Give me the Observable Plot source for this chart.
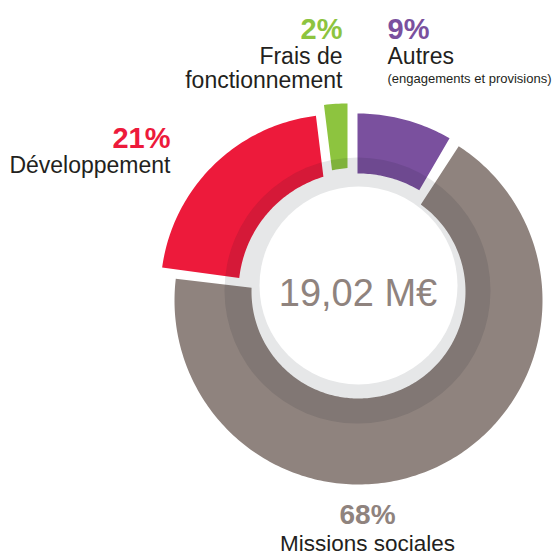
<!DOCTYPE html>
<html><head><meta charset="utf-8">
<script src="https://cdn.jsdelivr.net/npm/d3@7"></script>
<script src="https://cdn.jsdelivr.net/npm/@observablehq/plot@0.6"></script>
<style>html,body{margin:0;padding:0;background:#fff}</style>
</head><body><div id="chart"></div>
<script>
// ---- data ----
const categories = ["Autres", "Missions sociales", "Développement", "Frais de fonctionnement"];
const percents = [9, 68, 21, 2];
const colors = ["#7a509e", "#8f837e", "#ed1a3b", "#8dc43f"];
const titleLines = [["Autres"], ["Missions sociales"], ["Développement"], ["Frais de", "fonctionnement"]];
const subtitles = ["(engagements et provisions)", "", "", ""];
const totalLabel = "19,02 M€";

// ---- layout (pixels, relative to the donut centre) ----
const W = 554, H = 555, CX = 358, CY = 300;
const segLayout = [
  {ax: -1,  ay: -4, R: 183, r: 118, padStart: 0,   padEnd: 2.2},
  {ax: 0,   ay: 0,  R: 184, r: 107, padStart: 0.6, padEnd: 0.4},
  {ax: -21, ay: -9, R: 177, r: 120, padStart: 0.6, padEnd: -0.2},
  {ax: -11, ay: -4, R: 193, r: 124, padStart: 0.2, padEnd: 0}
];
const innerCentre = {x: 0, y: -9};
const shade = {x: -1, y: -10, r: 133};
const hole = {x: 0, y: -15, r: 99};
const labelLayout = [
  {x: 387, y: 38, anchor: "start", lineY: [63], subY: 82, pctSize: 29, titleSize: 23},
  {x: 367, y: 523, anchor: "middle", lineY: [550], pctSize: 28, titleSize: 22.5},
  {x: 170, y: 147, anchor: "end", lineY: [172], pctSize: 29, titleSize: 23},
  {x: 342, y: 38, anchor: "end", lineY: [63, 87], pctSize: 29, titleSize: 23}
];
const FONT = "'Liberation Sans', Arial, Helvetica, sans-serif";

// ---- build slice polygons from the percentages ----
const polys = [];
let cum = 0;
percents.forEach((p, i) => {
  const L = segLayout[i];
  const a0 = cum / 100 * 360 + L.padStart;
  const a1 = (cum + p) / 100 * 360 - L.padEnd;
  cum += p;
  const n = Math.max(8, Math.ceil(a1 - a0));
  const outer = [], inner = [];
  for (let k = 0; k <= n; k++) {
    const a = (a0 + (a1 - a0) * k / n) * Math.PI / 180;
    const dx = Math.sin(a), dy = -Math.cos(a);
    outer.push({x: L.ax + L.R * dx, y: L.ay + L.R * dy});
    const ox = L.ax - innerCentre.x, oy = L.ay - innerCentre.y;
    const b = ox * dx + oy * dy;
    const c = ox * ox + oy * oy - L.r * L.r;
    const t = -b + Math.sqrt(b * b - c);
    inner.push({x: L.ax + t * dx, y: L.ay + t * dy});
  }
  [...outer, ...inner.reverse()].forEach(pt => polys.push({...pt, cat: categories[i]}));
});

// ---- labels ----
const textMarks = [];
categories.forEach((c, i) => {
  const L = labelLayout[i];
  textMarks.push(Plot.text([percents[i] + "%"], {
    x: () => L.x - CX, y: () => L.y - CY, text: d => d,
    fill: colors[i], fontSize: L.pctSize, fontWeight: "bold", fontFamily: FONT,
    textAnchor: L.anchor, lineAnchor: "bottom"
  }));
  titleLines[i].forEach((line, j) => {
    textMarks.push(Plot.text([line], {
      x: () => L.x - CX, y: () => L.lineY[j] - CY, text: d => d,
      fill: "#231f20", fontSize: L.titleSize, fontFamily: FONT,
      textAnchor: L.anchor, lineAnchor: "bottom"
    }));
  });
  if (subtitles[i]) {
    textMarks.push(Plot.text([subtitles[i]], {
      x: () => L.x - CX, y: () => L.subY - CY, text: d => d,
      fill: "#231f20", fontSize: 13, fontFamily: FONT,
      textAnchor: L.anchor, lineAnchor: "bottom"
    }));
  }
});

const chart = Plot.plot({
  width: W, height: H,
  marginTop: 0, marginRight: 0, marginBottom: 0, marginLeft: 0,
  x: {domain: [-CX, W - CX], axis: null},
  y: {domain: [-CY, H - CY], reverse: true, axis: null},
  color: {domain: categories, range: colors},
  style: {background: "#fff", overflow: "visible"},
  marks: [
    Plot.line(polys, {x: "x", y: "y", z: "cat", fill: "cat", stroke: "none", curve: "linear-closed"}),
    Plot.dot([shade], {x: "x", y: "y", r: shade.r, fill: "#0a1020", fillOpacity: 0.1, stroke: null}),
    Plot.dot([hole], {x: "x", y: "y", r: hole.r, fill: "#fff", stroke: null}),
    Plot.text([totalLabel], {x: () => -0.5, y: () => 5, text: d => d, fill: "#8f837e",
      fontSize: 38, fontFamily: FONT, textAnchor: "middle", lineAnchor: "bottom"}),
    ...textMarks
  ]
});
document.getElementById("chart").appendChild(chart);
</script>
</body></html>
